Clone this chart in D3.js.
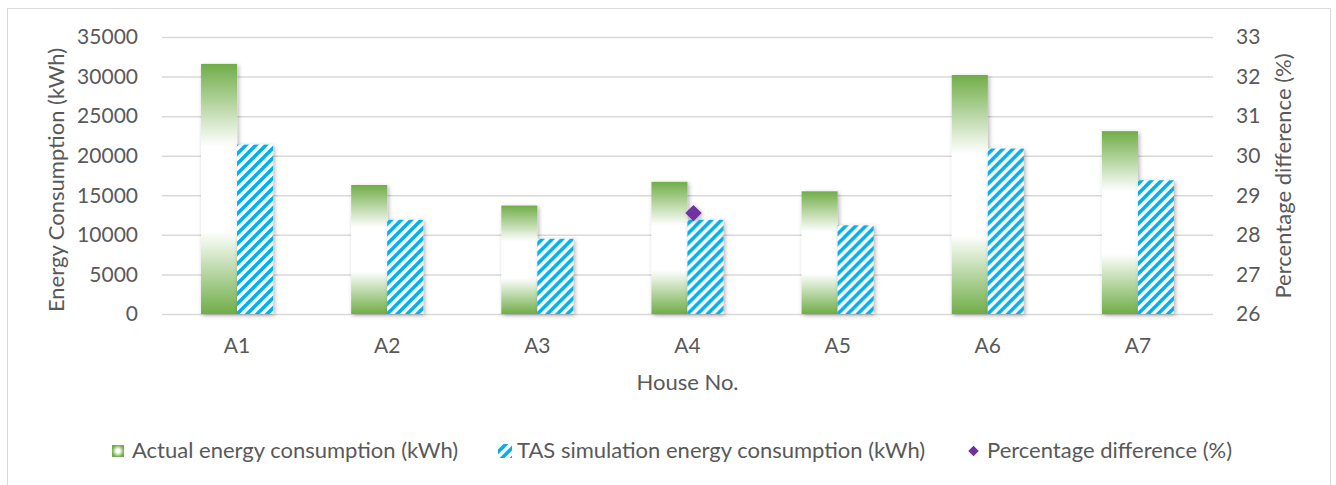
<!DOCTYPE html>
<html>
  <head>
    <meta charset="UTF-8">
    <title>Energy consumption by house</title>
  </head>
  <style type="text/css">
    body { margin: 0; background: #fff; }
    text {
      font-family: Lato, "Open Sans", sans-serif;
      font-size: 22px;
      fill: #595959;
    }
    .tick text { font-size: 21px; }
    .grid line { stroke: #d9d9d9; stroke-width: 1.5; }
    .grid path { display: none; }
  </style>
  <body>
    <svg width="1336" height="485"></svg>
  </body>
  <script src="https://d3js.org/d3.v7.min.js"></script>
  <script type="text/javascript">
    // data
    const houses = ['A1', 'A2', 'A3', 'A4', 'A5', 'A6', 'A7'];
    const actualKwh = [31600, 16300, 13700, 16700, 15500, 30200, 23100];
    const tasKwh = [21400, 11900, 9500, 11900, 11200, 20900, 16900];
    const pctDiff = [null, null, null, 28.55, null, null, null];
    const leftTicks = [0, 5000, 10000, 15000, 20000, 25000, 30000, 35000];
    const rightTicks = [26, 27, 28, 29, 30, 31, 32, 33];

    const green = '#70ad47', blue = '#00b0f0', purple = '#7030a0';

    let svg = d3.select('svg'),
        plot = {left: 162, right: 1213, top: 37, bottom: 314};

    const defs = svg.append('defs');

    const grad = defs.append('linearGradient')
      .attr('id', 'greenFill')
      .attr('x1', 0).attr('y1', 0).attr('x2', 0).attr('y2', 1);
    [[0, green], [0.33, '#fff'], [0.67, '#fff'], [1, green]].forEach(s => {
      grad.append('stop').attr('offset', s[0]).attr('stop-color', s[1]);
    });

    const legGrad = defs.append('radialGradient').attr('id', 'greenLegend');
    legGrad.append('stop').attr('offset', 0.3).attr('stop-color', '#fff');
    legGrad.append('stop').attr('offset', 1).attr('stop-color', green);

    const hatch = defs.append('pattern')
      .attr('id', 'hatch')
      .attr('patternUnits', 'userSpaceOnUse')
      .attr('width', 10).attr('height', 10);
    hatch.append('rect').attr('width', 10).attr('height', 10).attr('fill', '#fff');
    hatch.append('path')
      .attr('d', 'M-2,2 l4,-4 M0,10 l10,-10 M8,12 l4,-4')
      .attr('stroke', blue)
      .attr('stroke-width', 3.6);

    const shadow = defs.append('filter').attr('id', 'shadow')
      .attr('x', '-20%').attr('y', '-20%').attr('width', '140%').attr('height', '140%');
    shadow.append('feDropShadow')
      .attr('dx', 1.5).attr('dy', 1.5).attr('stdDeviation', 2)
      .attr('flood-color', '#000').attr('flood-opacity', 0.3);

    // chart frame
    svg.append('rect')
      .attr('x', 7.5).attr('y', 8.5)
      .attr('width', 1323).attr('height', 520)
      .attr('fill', '#fff')
      .attr('stroke', '#d9d9d9');

    const x0 = d3.scaleBand().domain(houses).range([plot.left, plot.right]);
    const groupW = x0.bandwidth() * 0.48;
    const x1 = d3.scaleBand().domain(['actual', 'tas']).range([0, groupW]);
    const y = d3.scaleLinear().domain([0, 35000]).range([plot.bottom, plot.top]);
    const y2 = d3.scaleLinear().domain([26, 33]).range([plot.bottom, plot.top]);

    // gridlines
    svg.append('g')
      .attr('class', 'grid')
      .attr('transform', 'translate(' + plot.left + ',0)')
      .call(d3.axisLeft(y).tickValues(leftTicks).tickSize(-(plot.right - plot.left)).tickFormat(''));

    // left axis labels
    const yAxis = svg.append('g')
      .attr('transform', 'translate(' + plot.left + ',0)')
      .call(d3.axisLeft(y).tickValues(leftTicks).tickSize(0).tickPadding(24).tickFormat(d3.format('d')));
    yAxis.select('.domain').remove();

    // right axis labels
    const y2Axis = svg.append('g')
      .attr('transform', 'translate(' + plot.right + ',0)')
      .call(d3.axisRight(y2).tickValues(rightTicks).tickSize(0).tickPadding(23).tickFormat(d3.format('d')));
    y2Axis.select('.domain').remove();

    // x axis labels
    const xAxis = svg.append('g')
      .attr('transform', 'translate(0,' + plot.bottom + ')')
      .call(d3.axisBottom(x0).tickSize(0).tickPadding(24));
    xAxis.select('.domain').remove();

    svg.selectAll('.tick text').attr('fill', null);
    svg.selectAll('g[font-family]').attr('font-family', null).attr('font-size', null);

    // bars
    const groups = svg.append('g').selectAll('g')
      .data(houses)
      .join('g')
        .attr('transform', d => 'translate(' + (x0(d) + (x0.bandwidth() - groupW) / 2) + ',0)');

    groups.append('rect')
      .attr('x', x1('actual'))
      .attr('y', (d, i) => y(actualKwh[i]))
      .attr('width', x1.bandwidth())
      .attr('height', (d, i) => y(0) - y(actualKwh[i]))
      .attr('fill', 'url(#greenFill)')
      .attr('filter', 'url(#shadow)');

    groups.append('rect')
      .attr('x', x1('tas'))
      .attr('y', (d, i) => y(tasKwh[i]))
      .attr('width', x1.bandwidth())
      .attr('height', (d, i) => y(0) - y(tasKwh[i]))
      .attr('fill', 'url(#hatch)')
      .attr('filter', 'url(#shadow)');

    // percentage difference markers
    const markerShift = 6;
    svg.append('g').selectAll('path')
      .data(houses.map((h, i) => ({h: h, v: pctDiff[i]})).filter(d => d.v !== null))
      .join('path')
        .attr('d', d3.symbol(d3.symbolDiamond2, 170))
        .attr('transform', d => 'translate(' + (x0(d.h) + x0.bandwidth() / 2 + markerShift) + ',' + y2(d.v) + ')')
        .attr('fill', purple)
        .attr('filter', 'url(#shadow)');

    // axis titles
    svg.append('text')
      .attr('x', (plot.left + plot.right) / 2)
      .attr('y', 390)
      .attr('text-anchor', 'middle')
      .text('House No.');

    svg.append('text')
      .attr('transform', 'translate(64,180) rotate(-90)')
      .attr('text-anchor', 'middle')
      .text('Energy Consumption (kWh)');

    svg.append('text')
      .attr('transform', 'translate(1291,176) rotate(-90)')
      .attr('text-anchor', 'middle')
      .text('Percentage difference (%)');

    // legend
    const legend = svg.append('g');
    const ly = 458;
    legend.append('rect')
      .attr('x', 112).attr('y', ly - 13).attr('width', 12).attr('height', 12)
      .attr('fill', 'url(#greenLegend)');
    legend.append('text').attr('x', 132).attr('y', ly).text('Actual energy consumption (kWh)');

    legend.append('rect')
      .attr('x', 498).attr('y', ly - 14).attr('width', 14).attr('height', 14)
      .attr('fill', 'url(#hatch)');
    legend.append('text').attr('x', 517).attr('y', ly).text('TAS simulation energy consumption (kWh)');

    legend.append('path')
      .attr('d', d3.symbol(d3.symbolDiamond2, 70))
      .attr('transform', 'translate(973.5,' + (ly - 7) + ')')
      .attr('fill', purple);
    legend.append('text').attr('x', 987).attr('y', ly).text('Percentage difference (%)');
  </script>
</html>
